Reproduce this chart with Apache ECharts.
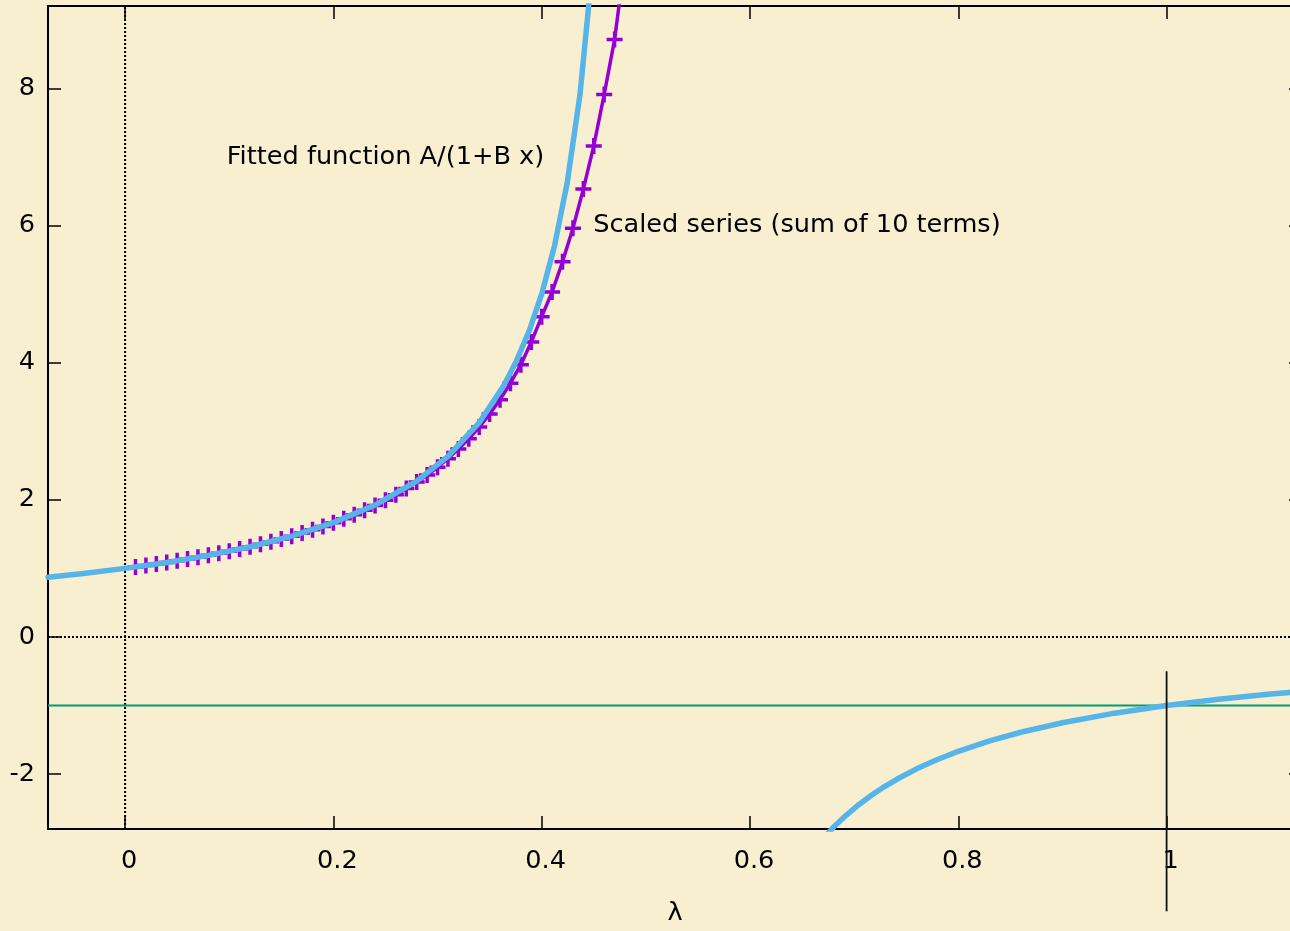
<!DOCTYPE html>
<html>
<head>
<meta charset="utf-8">
<script src="https://cdn.jsdelivr.net/npm/echarts@6/dist/echarts.min.js"></script>
<style>
  html, body { margin: 0; padding: 0; background: #f7efd0; overflow: hidden; }
  /* the frame's right edge sits just past the window edge */
  #chart { width: 1310px; height: 931px; }
</style>
</head>
<body>
<div id="chart"></div>
<script>
// Axis ranges and tick values
const xRange = [-0.074, 1.13];
const yRange = [-2.8, 9.2];
const xTicks = [0, 0.2, 0.4, 0.6, 0.8, 1];
const yTicks = [-2, 0, 2, 4, 6, 8];

// Partial sums of the scaled series, one point per step in lambda
const lambda = [0.01, 0.02, 0.03, 0.04, 0.05, 0.06, 0.07, 0.08, 0.09, 0.10,
                0.11, 0.12, 0.13, 0.14, 0.15, 0.16, 0.17, 0.18, 0.19, 0.20,
                0.21, 0.22, 0.23, 0.24, 0.25, 0.26, 0.27, 0.28, 0.29, 0.30,
                0.31, 0.32, 0.33, 0.34, 0.35, 0.36, 0.37, 0.38, 0.39, 0.40,
                0.41, 0.42, 0.43, 0.44, 0.45, 0.46, 0.47, 0.48];
const scaledSeries = [1.020, 1.042, 1.064, 1.087, 1.111, 1.136, 1.163, 1.190, 1.220, 1.250,
                      1.282, 1.316, 1.351, 1.389, 1.428, 1.470, 1.515, 1.562, 1.612, 1.665,
                      1.722, 1.783, 1.848, 1.918, 1.993, 2.075, 2.163, 2.258, 2.362, 2.475,
                      2.60, 2.74, 2.89, 3.06, 3.25, 3.46, 3.70, 3.97, 4.30, 4.67,
                      5.03, 5.47, 5.96, 6.53, 7.16, 7.91, 8.71, 9.88];

// Fitted curve A/(1+B x), sampled on both sides of its pole
const fitLeftX = [-0.074, -0.04, 0, 0.04, 0.08, 0.12, 0.16, 0.2, 0.24, 0.28,
                  0.31, 0.34, 0.3638, 0.376, 0.3881, 0.4003, 0.4125, 0.4246, 0.4368, 0.449];
const fitLeftY = [0.871, 0.926, 1, 1.087, 1.190, 1.316, 1.471, 1.667, 1.923, 2.273,
                  2.632, 3.125, 3.671, 4.032, 4.468, 5.015, 5.714, 6.631, 7.911, 9.804];
const fitRightX = [0.6679, 0.6801, 0.6923, 0.7044, 0.7166, 0.7288, 0.741, 0.76, 0.78, 0.80,
                   0.83, 0.86, 0.90, 0.95, 1.0, 1.05, 1.10, 1.13];
const fitRightY = [-2.978, -2.776, -2.600, -2.446, -2.308, -2.185, -2.075, -1.923, -1.786, -1.667,
                   -1.515, -1.389, -1.25, -1.111, -1, -0.909, -0.833, -0.794];

// Reference level and the vertical marker at lambda = 1
const levelY = -1;
const markerX = 1;
const markerY = [-0.5, -4];

// Text annotations: [x, y, text]
const notes = [
  [0.1, 7, 'Fitted function A/(1+B x)'],
  [0.45, 6, 'Scaled series (sum of 10 terms)']
];
const noteShift = [-2.5, -0.5];

const FONT = 'DejaVu Sans';
const FSIZE = 25.6;
const INK = '#000000';
const PURPLE = '#9400d3';
const GREEN = '#009e73';
const BLUE = '#56b4e9';

const zip = (xs, ys) => xs.map((x, i) => [x, ys[i]]);
const plusPath = 'path://M6.25,0H9.75V6.25H16V9.75H9.75V16H6.25V9.75H0V6.25H6.25Z';

function frameAxis(position, ticks, labels) {
  return {
    type: 'value',
    position: position,
    axisLine: { show: true, onZero: false, lineStyle: { color: INK, width: 2 } },
    axisTick: { show: true, inside: true, length: 13, customValues: ticks,
                lineStyle: { color: INK, width: 1.5 } },
    axisLabel: labels ? Object.assign({ customValues: ticks, color: INK,
                fontFamily: FONT, fontSize: FSIZE }, labels) : { show: false },
    splitLine: { show: false }
  };
}

const xBottom = Object.assign(frameAxis('bottom', xTicks, { margin: 19, padding: [0, 0, 0, 8] }), {
  min: xRange[0], max: xRange[1],
  name: 'λ', nameLocation: 'middle', nameGap: 71,
  nameTextStyle: { color: INK, fontFamily: FONT, fontSize: FSIZE }
});
const xTop = Object.assign(frameAxis('top', xTicks, null), { min: xRange[0], max: xRange[1] });
const yLeft = Object.assign(frameAxis('left', yTicks, { margin: 13 }), { min: yRange[0], max: yRange[1] });
const yRight = Object.assign(frameAxis('right', yTicks, null), { min: yRange[0], max: yRange[1] });

const chart = echarts.init(document.getElementById('chart'), null, { renderer: 'canvas' });

chart.setOption({
  backgroundColor: '#f7efd0',
  animation: false,
  grid: { left: 48, top: 6, width: 1254, height: 825, containLabel: false },
  xAxis: [xBottom, xTop],
  yAxis: [yLeft, yRight],
  series: [
    {
      // zero axes
      type: 'line', silent: true, symbol: 'none', z: 1,
      data: [[0, yRange[0]], [0, yRange[1]], null, [xRange[0], 0], [xRange[1], 0]],
      connectNulls: false,
      lineStyle: { color: INK, width: 2, type: [2, 2] }
    },
    {
      type: 'line', name: 'Scaled series', z: 2,
      data: zip(lambda, scaledSeries),
      showAllSymbol: true,
      symbol: plusPath, symbolSize: 16,
      itemStyle: { color: PURPLE, borderWidth: 0 },
      lineStyle: { color: PURPLE, width: 3.5 }
    },
    {
      type: 'line', silent: true, symbol: 'none', z: 3,
      data: [[xRange[0], levelY], [xRange[1], levelY]],
      lineStyle: { color: GREEN, width: 2 }
    },
    {
      type: 'line', name: 'Fitted function', symbol: 'none', z: 4,
      data: zip(fitLeftX, fitLeftY),
      lineStyle: { color: BLUE, width: 5.5, cap: 'round', join: 'round' }
    },
    {
      type: 'line', name: 'Fitted function', symbol: 'none', z: 4,
      data: zip(fitRightX, fitRightY),
      lineStyle: { color: BLUE, width: 5.5, cap: 'round', join: 'round' }
    },
    {
      type: 'line', silent: true, symbol: 'none', z: 5, clip: false,
      data: [[markerX, markerY[0]], [markerX, markerY[1]]],
      lineStyle: { color: '#111111', width: 1.8 }
    }
  ]
});

// Annotations placed through the axis scales
chart.setOption({
  graphic: notes.map((n, i) => {
    const p = chart.convertToPixel({ gridIndex: 0 }, [n[0], n[1]]);
    return {
      type: 'text', z: 100, silent: true,
      x: p[0] + noteShift[i], y: p[1],
      style: {
        text: n[2], fill: INK,
        font: FSIZE + 'px "' + FONT + '"',
        align: 'left', verticalAlign: 'middle'
      }
    };
  })
});
</script>
</body>
</html>
